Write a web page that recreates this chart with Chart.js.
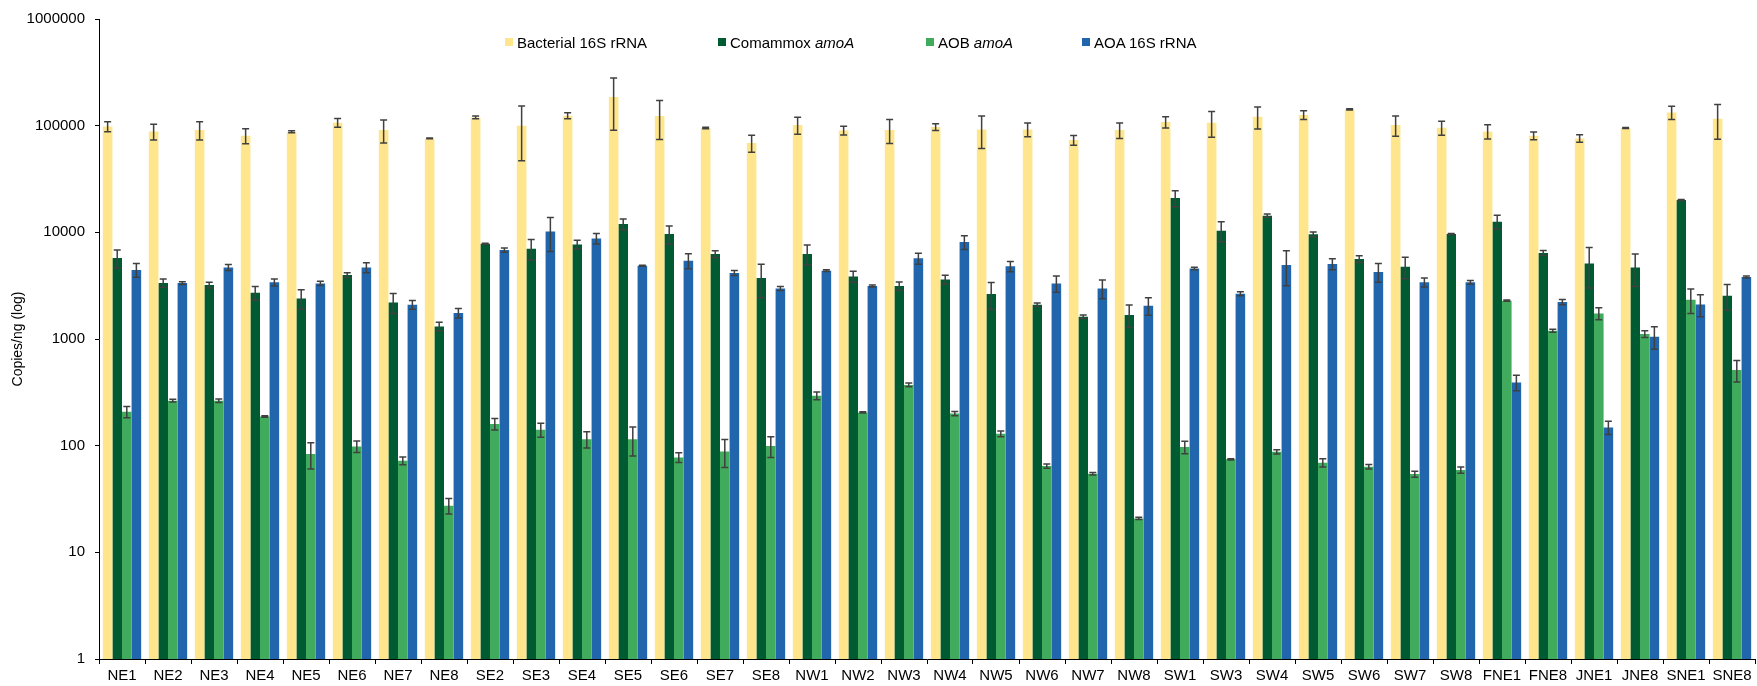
<!DOCTYPE html>
<html>
<head>
<meta charset="utf-8">
<script src="https://cdn.jsdelivr.net/npm/chart.js@4.4.1/dist/chart.umd.min.js"></script>
<style>
  html, body { margin: 0; padding: 0; background: #fff; }
  #wrap { position: relative; width: 1757px; height: 686px; font-family: 'Liberation Sans', Arial, sans-serif; }
  #wrap canvas { position: absolute; left: 0; top: 0; }
  .key { position: absolute; top: 33px; height: 18px; display: flex; align-items: center; font-size: 15px; color: #000; white-space: nowrap; }
  .key .sw { width: 8px; height: 8px; margin-right: 4px; flex: none; }
</style>
</head>
<body>
<div id="wrap">
  <canvas id="chart" width="1757" height="686"></canvas>
  <div class="key" style="left:505px"><span class="sw" style="background:#FFE68C"></span>Bacterial 16S rRNA</div>
  <div class="key" style="left:718px"><span class="sw" style="background:#005A32"></span>Comammox&nbsp;<i>amoA</i></div>
  <div class="key" style="left:926px"><span class="sw" style="background:#41AB5D"></span>AOB&nbsp;<i>amoA</i></div>
  <div class="key" style="left:1082px"><span class="sw" style="background:#2166AC"></span>AOA 16S rRNA</div>
</div>
<script>
// Sampling sites
const sites = ['NE1','NE2','NE3','NE4','NE5','NE6','NE7','NE8',
  'SE2','SE3','SE4','SE5','SE6','SE7','SE8',
  'NW1','NW2','NW3','NW4','NW5','NW6','NW7','NW8',
  'SW1','SW3','SW4','SW5','SW6','SW7','SW8',
  'FNE1','FNE8','JNE1','JNE8','SNE1','SNE8'];

// Gene copies per ng DNA (mean) and standard deviation
const bacterial16S = [98400, 88300, 91000, 80500, 87800, 106700, 91000, 76000,
  119500, 100000, 124000, 185500, 123000, 95000, 68700,
  101500, 90200, 91000, 97100, 92200, 92200, 73300, 91000,
  108200, 106700, 121400, 126000, 142200, 101500, 95700,
  88300, 80500, 76000, 95000, 133000, 116200];
const bacterial16SSd = [10500, 15000, 17600, 13000, 2000, 10000, 22300, 600,
  3500, 53000, 8000, 95000, 49000, 1500, 12500,
  18500, 8300, 23000, 7200, 31000, 13500, 7600, 15000,
  13000, 29000, 28500, 12000, 2000, 22000, 14500,
  13500, 6800, 6000, 1000, 19000, 41500];

const comammoxAmoA = [5740, 3350, 3210, 2717, 2400, 3980, 2200, 1312,
  7820, 7020, 7710, 11970, 9640, 6270, 3730,
  6270, 3860, 3140, 3620, 2640, 2098, 1618, 1679,
  21000, 10360, 14320, 9570, 5620, 4760, 9640,
  12590, 6400, 5115, 4690, 20100, 2546];
const comammoxAmoASd = [1100, 300, 200, 390, 500, 200, 470, 120,
  100, 1550, 700, 1400, 1850, 450, 1300,
  1330, 460, 280, 350, 750, 80, 60, 400,
  3600, 2200, 500, 500, 400, 1080, 100,
  1840, 350, 2100, 1580, 200, 690];

const aobAmoA = [208, 264, 264, 188, 83.5, 98.4, 72.3, 27.4,
  160, 141, 115, 115, 77.6, 88.3, 99.3,
  294, 205, 371, 200, 129, 64.4, 54.6, 20.8,
  97.1, 74.5, 87.7, 69.2, 63.5, 54.2, 59.1,
  2287, 1197, 1738, 1114, 2337, 512];
const aobAmoASd = [25, 8, 10, 3, 23, 12, 6, 4.5,
  20, 21, 20, 35, 8, 26, 22,
  25, 3, 15, 9, 8, 3, 1.5, 0.5,
  13, 1, 4, 6, 3, 3.5, 4,
  30, 40, 220, 80, 600, 117];

const aoa16S = [4440, 3350, 4690, 3396, 3320, 4690, 2100, 1754,
  6820, 10200, 8770, 4865, 5420, 4157, 2980,
  4370, 3140, 5700, 8110, 4800, 3320, 2980, 2052,
  4590, 2660, 4940, 5050, 4250, 3396, 3396,
  392, 2222, 148, 1052, 2110, 3811];
const aoa16SSd = [650, 100, 300, 250, 150, 500, 200, 180,
  300, 3600, 1000, 50, 870, 220, 130,
  80, 60, 680, 1200, 520, 580, 600, 380,
  120, 120, 1780, 600, 840, 330, 130,
  65, 130, 21, 250, 490, 80];

const yTicks = [1, 10, 100, 1000, 10000, 100000, 1000000];

const FONT = "'Liberation Sans', Arial, sans-serif";
Chart.defaults.font.family = FONT;
Chart.defaults.font.size = 15;
Chart.defaults.color = '#000';

// Draws mean ± SD whiskers with caps over every bar
const errorBars = {
  id: 'errorBars',
  afterDatasetsDraw(chart) {
    const ctx = chart.ctx;
    const y = chart.scales.y;
    ctx.save();
    ctx.strokeStyle = '#404040';
    ctx.lineWidth = 1.5;
    chart.data.datasets.forEach((ds, di) => {
      const meta = chart.getDatasetMeta(di);
      meta.data.forEach((bar, i) => {
        const v = ds.data[i], e = ds.sd[i];
        if (!e) return;
        const yTop = y.getPixelForValue(v + e);
        const yBot = y.getPixelForValue(Math.max(v - e, 0.5));
        const x = bar.x, cap = 3.5;
        ctx.beginPath();
        ctx.moveTo(x, yTop); ctx.lineTo(x, yBot);
        ctx.moveTo(x - cap, yTop); ctx.lineTo(x + cap, yTop);
        ctx.moveTo(x - cap, yBot); ctx.lineTo(x + cap, yBot);
        ctx.stroke();
      });
    });
    ctx.restore();
  }
};

const mk = (label, data, sd, color) => ({
  label, data, sd,
  backgroundColor: color,
  borderWidth: 0,
  categoryPercentage: 0.833,
  barPercentage: 1.0
});

new Chart(document.getElementById('chart'), {
  type: 'bar',
  data: {
    labels: sites,
    datasets: [
      mk('Bacterial 16S rRNA', bacterial16S, bacterial16SSd, '#FFE68C'),
      mk('Comammox amoA', comammoxAmoA, comammoxAmoASd, '#005A32'),
      mk('AOB amoA', aobAmoA, aobAmoASd, '#41AB5D'),
      mk('AOA 16S rRNA', aoa16S, aoa16SSd, '#2166AC')
    ]
  },
  options: {
    responsive: false,
    animation: false,
    devicePixelRatio: 1,
    layout: { padding: { top: 18, right: 2, left: 0, bottom: 0 } },
    plugins: { legend: { display: false }, tooltip: { enabled: false } },
    scales: {
      x: {
        offset: true,
        grid: { offset: true, drawOnChartArea: false, drawTicks: true, tickLength: 5, color: '#000' },
        border: { display: true, color: '#000', width: 1 },
        ticks: { autoSkip: false, maxRotation: 0, padding: 3, color: '#000', font: { size: 15 } },
        afterFit: s => { s.height = 27; }
      },
      y: {
        type: 'logarithmic',
        min: 1,
        max: 1000000,
        grid: { drawOnChartArea: false, drawTicks: true, tickLength: 4, color: '#000' },
        border: { display: true, color: '#000', width: 1 },
        ticks: { padding: 10, color: '#000', font: { size: 15 }, callback: v => String(v) },
        afterBuildTicks: s => { s.ticks = yTicks.map(v => ({ value: v })); },
        title: { display: true, text: 'Copies/ng (log)', color: '#000', font: { size: 14 }, padding: { top: 10, bottom: 0 } },
        afterFit: s => { s.width = 99; }
      }
    }
  },
  plugins: [errorBars]
});
</script>
</body>
</html>
